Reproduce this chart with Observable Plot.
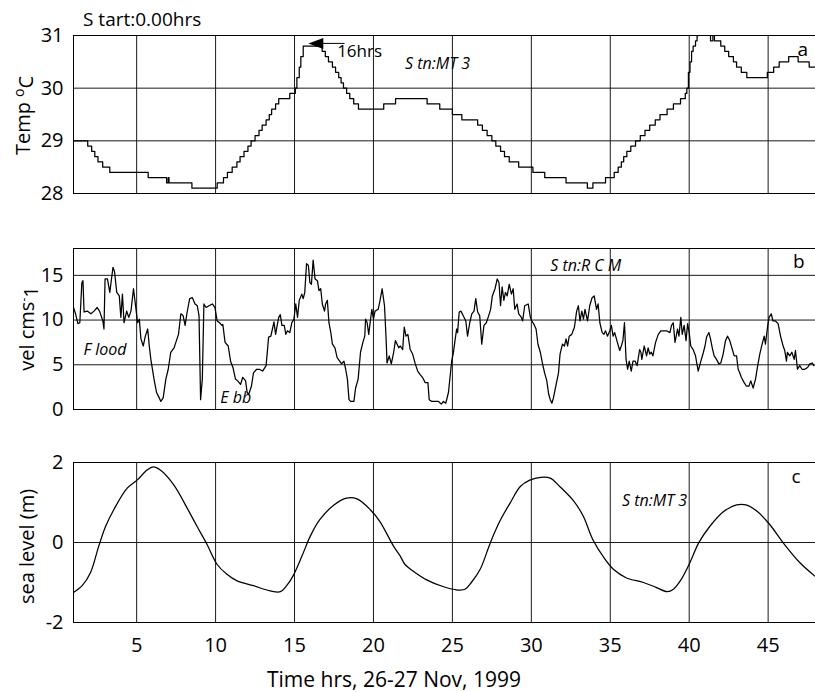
<!DOCTYPE html>
<html>
<head>
<meta charset="utf-8">
<script src="https://cdn.jsdelivr.net/npm/d3@7"></script>
<script src="https://cdn.jsdelivr.net/npm/@observablehq/plot@0.6"></script>
<style>
  body { margin: 0; background: #fff; }
  #chart { position: relative; width: 815px; height: 692px; font-family: "Open Sans", sans-serif; }
  #chart svg { display: block; }
</style>
</head>
<body>
<div id="chart"></div>
<script>
// ---------- DATA ----------
const xTicks = [5, 10, 15, 20, 25, 30, 35, 40, 45];
const tempTicks = [28, 29, 30, 31];
const tempGrid = [29, 30];
const velTicks = [0, 5, 10, 15];
const velGrid = [5, 10, 15];
const seaTicks = [-2, 0, 2];
const seaGrid = [0];

// temperature (deg C), hours; quantised 0.1 steps (value held until next hour)
const tempSeries = [
  [1.0,29.0],[1.9,28.9],[2.15,28.8],[2.35,28.7],[2.55,28.6],[2.85,28.5],[3.3,28.4],[5.73,28.3],
  [6.9,28.2],[7.0,28.3],[7.05,28.2],[8.5,28.1],[10.1,28.2],[10.5,28.3],[10.75,28.4],[11.05,28.5],
  [11.35,28.6],[11.55,28.7],[11.8,28.8],[12.05,28.9],[12.25,29.0],[12.5,29.1],[12.75,29.2],
  [12.95,29.3],[13.2,29.4],[13.4,29.5],[13.55,29.6],[13.8,29.7],[14.0,29.8],[14.7,29.9],
  [15.05,30.0],[15.15,30.2],[15.3,30.4],[15.4,30.6],[15.55,30.8],[16.75,30.7],[16.95,30.6],
  [17.15,30.5],[17.4,30.4],[17.6,30.3],[17.8,30.2],[17.95,30.1],[18.1,30.0],[18.3,29.9],
  [18.5,29.8],[18.75,29.7],[19.05,29.6],[20.65,29.7],[21.4,29.8],[23.4,29.7],[24.2,29.6],
  [25.0,29.5],[25.6,29.4],[26.6,29.3],[26.9,29.2],[27.2,29.1],[27.5,29.0],[27.75,28.9],
  [28.05,28.8],[28.3,28.7],[28.6,28.6],[29.2,28.5],[30.1,28.4],[30.85,28.3],[32.2,28.2],
  [33.55,28.1],[33.9,28.2],[34.7,28.3],[35.25,28.4],[35.5,28.5],[35.7,28.6],[35.85,28.7],
  [36.05,28.8],[36.3,28.9],[36.6,29.0],[36.9,29.1],[37.2,29.2],[37.5,29.3],[37.85,29.4],
  [38.15,29.5],[38.6,29.6],[39.0,29.7],[39.45,29.8],[39.75,29.9],[39.85,30.0],[39.95,30.3],
  [40.05,30.5],[40.15,30.7],[40.25,30.8],[40.4,30.9],[40.5,31.0],[40.6,31.1],[41.35,30.9],
  [41.5,31.0],[41.6,30.9],[42.0,30.8],[42.25,30.7],[42.5,30.6],[42.8,30.5],[43.0,30.4],
  [43.3,30.3],[43.65,30.2],[44.95,30.3],[45.35,30.4],[45.7,30.5],[46.3,30.6],[46.9,30.5],
  [47.6,30.4],[48.0,30.4]
];

// current speed (cm/s), hours
const velSeries = [
  [1.0,11.4],[1.13,10.7],[1.28,9.6],[1.4,9.7],[1.53,14.2],[1.6,14.4],[1.67,10.9],[1.87,11.0],
  [2.1,10.7],[2.3,11.0],[2.5,11.4],[2.65,11.0],[2.86,9.9],[2.93,9.0],[3.0,14.6],[3.15,14.6],
  [3.3,13.1],[3.5,15.9],[3.6,15.4],[3.74,13.1],[3.9,12.7],[4.0,10.3],[4.1,12.9],[4.2,9.7],
  [4.37,11.0],[4.5,10.3],[4.64,11.0],[4.8,13.5],[4.96,11.2],[5.06,9.7],[5.17,10.1],[5.27,7.9],
  [5.42,7.1],[5.55,8.2],[5.7,9.0],[5.8,7.1],[5.9,5.6],[6.1,3.4],[6.26,1.9],[6.43,1.3],
  [6.53,0.9],[6.68,1.3],[6.85,3.4],[7.0,4.5],[7.16,6.4],[7.37,6.9],[7.52,7.7],[7.65,8.4],
  [7.8,10.7],[7.94,10.5],[8.07,9.4],[8.2,10.9],[8.36,12.4],[8.53,12.5],[8.7,11.8],[8.84,11.6],
  [8.95,10.5],[9.05,1.1],[9.16,3.4],[9.26,11.8],[9.4,11.4],[9.58,11.6],[9.8,11.8],[9.96,11.4],
  [10.1,9.9],[10.25,9.7],[10.4,9.4],[10.46,9.5],[10.6,7.5],[10.8,7.1],[10.95,5.4],[11.1,4.7],
  [11.26,3.4],[11.4,3.2],[11.58,2.8],[11.72,3.6],[11.9,3.2],[12.0,1.9],[12.1,1.7],[12.27,2.6],
  [12.4,4.1],[12.6,4.5],[12.77,4.5],[12.98,4.3],[13.2,4.9],[13.36,8.1],[13.5,8.2],[13.6,9.0],
  [13.7,9.8],[13.8,8.4],[13.9,9.4],[14.0,10.3],[14.1,10.6],[14.2,9.4],[14.35,9.4],[14.45,8.4],
  [14.55,8.8],[14.7,8.6],[14.83,9.7],[14.96,10.1],[15.08,11.8],[15.19,10.3],[15.3,12.2],
  [15.46,12.9],[15.55,12.4],[15.65,13.1],[15.76,16.3],[15.88,16.1],[15.97,14.2],[16.07,14.0],
  [16.18,16.7],[16.3,14.6],[16.45,14.4],[16.55,13.3],[16.66,13.5],[16.76,11.8],[16.9,11.0],
  [16.97,11.8],[17.08,12.2],[17.18,9.7],[17.3,8.6],[17.4,7.3],[17.56,6.9],[17.7,5.8],
  [17.86,5.4],[17.98,5.1],[18.13,5.4],[18.24,4.5],[18.35,3.4],[18.45,1.1],[18.55,0.9],
  [18.76,0.9],[18.87,2.4],[19.03,3.4],[19.18,6.4],[19.33,7.5],[19.45,8.2],[19.5,10.1],
  [19.6,9.7],[19.7,8.4],[19.8,9.9],[19.9,11.2],[20.0,10.1],[20.1,11.0],[20.3,11.2],[20.44,12.4],
  [20.55,13.5],[20.7,11.6],[20.8,7.9],[20.86,5.2],[21.0,6.0],[21.13,5.1],[21.28,6.4],[21.39,7.7],
  [21.5,7.3],[21.6,6.9],[21.7,7.1],[21.85,6.7],[21.95,9.2],[22.06,8.2],[22.18,8.4],[22.33,6.7],
  [22.48,6.2],[22.65,5.1],[22.8,4.3],[22.96,3.9],[23.1,3.6],[23.28,3.0],[23.45,3.0],[23.53,1.1],
  [23.7,0.9],[23.9,0.9],[24.12,0.9],[24.3,0.6],[24.43,0.9],[24.58,0.7],[24.75,1.9],[24.85,3.6],
  [24.96,5.5],[25.05,6.2],[25.18,7.9],[25.27,9.0],[25.33,8.6],[25.43,10.9],[25.54,11.0],
  [25.68,10.5],[25.85,9.9],[25.96,8.2],[26.1,9.7],[26.23,10.7],[26.37,11.0],[26.48,12.4],
  [26.6,10.9],[26.73,10.5],[26.86,7.3],[27.0,9.4],[27.15,9.7],[27.3,10.5],[27.42,11.2],
  [27.53,12.7],[27.7,13.5],[27.84,14.6],[27.95,14.2],[28.05,11.6],[28.15,13.7],[28.26,12.2],
  [28.36,13.1],[28.47,12.7],[28.6,14.0],[28.74,12.9],[28.85,13.5],[28.95,11.2],[29.1,11.8],
  [29.2,10.7],[29.37,10.3],[29.45,9.9],[29.58,11.6],[29.8,11.8],[29.94,10.3],[30.04,9.9],
  [30.2,9.4],[30.3,9.0],[30.42,7.3],[30.57,6.4],[30.7,5.2],[30.84,4.1],[30.98,3.2],[31.1,1.7],
  [31.2,1.1],[31.3,0.7],[31.4,1.3],[31.55,2.6],[31.72,4.1],[31.82,6.2],[31.97,7.3],[32.1,7.1],
  [32.2,7.9],[32.3,7.1],[32.4,8.2],[32.56,8.4],[32.73,9.2],[32.87,11.0],[32.98,11.6],[33.08,9.9],
  [33.2,11.0],[33.3,10.1],[33.4,11.2],[33.56,9.9],[33.7,11.6],[33.85,12.5],[33.98,12.7],
  [34.13,11.2],[34.23,11.8],[34.34,9.7],[34.49,8.6],[34.6,8.4],[34.7,8.8],[34.82,8.2],
  [34.97,8.8],[35.07,9.4],[35.18,8.2],[35.28,8.6],[35.45,7.5],[35.6,6.6],[35.7,7.1],[35.8,7.7],
  [35.9,9.7],[36.0,5.6],[36.1,4.5],[36.2,5.4],[36.33,4.3],[36.44,5.4],[36.58,5.4],[36.7,4.9],
  [36.86,6.7],[36.94,6.4],[37.0,5.6],[37.15,7.1],[37.3,6.0],[37.4,6.9],[37.5,6.2],[37.6,6.4],
  [37.7,6.0],[37.87,7.5],[38.04,8.4],[38.2,8.8],[38.35,8.8],[38.56,8.8],[38.78,8.6],[38.88,9.4],
  [38.99,9.7],[39.1,7.5],[39.26,9.0],[39.35,8.2],[39.47,10.3],[39.56,8.4],[39.68,9.4],[39.8,7.7],
  [39.9,9.6],[40.0,8.6],[40.1,7.1],[40.25,6.7],[40.4,6.0],[40.57,4.3],[40.74,5.4],[40.9,6.4],
  [41.0,7.1],[41.1,8.1],[41.25,8.6],[41.35,7.9],[41.46,6.9],[41.58,6.0],[41.73,5.6],[41.88,5.1],
  [42.0,5.2],[42.15,6.2],[42.3,7.7],[42.43,8.2],[42.57,7.7],[42.7,6.9],[42.85,6.0],[43.0,6.0],
  [43.1,4.5],[43.2,4.1],[43.3,3.6],[43.48,3.0],[43.63,2.6],[43.78,2.6],[43.9,3.2],[44.05,2.4],
  [44.2,3.4],[44.32,4.7],[44.47,6.2],[44.62,7.3],[44.75,8.2],[44.83,7.3],[44.96,9.2],[45.06,10.3],
  [45.2,10.7],[45.3,9.9],[45.46,9.9],[45.63,9.6],[45.8,8.1],[45.95,7.1],[46.05,6.6],[46.16,5.4],
  [46.22,6.4],[46.37,6.0],[46.5,6.4],[46.65,5.6],[46.73,6.6],[46.86,4.5],[47.0,4.9],[47.15,4.5],
  [47.32,4.5],[47.5,4.7],[47.64,5.1],[47.8,5.2],[47.9,4.9]
];

// sea level (m), hours
const seaSeries = [
  [1.0,-1.25],[1.55,-1.08],[2.08,-0.75],[2.6,-0.09],[3.03,0.4],[3.55,0.82],[4.4,1.36],[5.03,1.56],
  [5.66,1.81],[6.04,1.89],[6.5,1.81],[7.35,1.44],[8.2,0.86],[8.83,0.4],[9.46,-0.05],[10.1,-0.55],
  [10.7,-0.79],[11.36,-0.96],[12.4,-1.08],[13.47,-1.21],[14.1,-1.23],[14.5,-1.08],[14.9,-0.84],
  [15.47,-0.34],[16.0,0.16],[16.6,0.57],[17.5,0.94],[18.3,1.11],[18.96,1.09],[19.8,0.82],
  [20.4,0.53],[21.27,-0.09],[21.7,-0.34],[22.0,-0.55],[22.5,-0.71],[23.4,-0.94],[24.4,-1.1],
  [25.2,-1.18],[25.8,-1.17],[26.2,-1.0],[26.76,-0.67],[27.4,-0.01],[28.0,0.53],[28.66,0.99],
  [29.3,1.4],[29.9,1.56],[30.6,1.63],[31.2,1.61],[31.8,1.4],[32.7,1.03],[33.3,0.65],[33.9,0.07],
  [34.6,-0.38],[35.2,-0.67],[36.0,-0.88],[37.1,-1.0],[37.9,-1.12],[38.6,-1.23],[39.0,-1.17],
  [39.5,-0.92],[40.05,-0.5],[40.6,-0.01],[41.3,0.4],[42.2,0.78],[43.0,0.94],[43.6,0.94],
  [44.3,0.78],[45.1,0.45],[45.96,-0.01],[47.0,-0.5],[47.96,-0.84]
];

// annotations (text and anchor point in data units)
const annotA = [
  {x: 47.2, y: 30.73, text: "a", italic: false, anchor: "middle"},
  {x: 22.0, y: 30.47, text: "S tn:MT 3", italic: true, anchor: "start"},
  {x: 17.7, y: 30.70, text: "16hrs", italic: false, anchor: "start"}
];
const arrowTip = [{x: 16.35, y: 30.85}];
const arrowShaft = [{x1: 16.8, x2: 18.2, y: 30.85}];
const annotB = [
  {x: 46.95, y: 16.5, text: "b", italic: false, anchor: "middle"},
  {x: 31.2, y: 16.1, text: "S tn:R C M", italic: true, anchor: "start"},
  {x: 1.63, y: 6.7, text: "F lood", italic: true, anchor: "start"},
  {x: 10.3, y: 1.3, text: "E bb", italic: true, anchor: "start"}
];
const annotC = [
  {x: 46.76, y: 1.65, text: "c", italic: false, anchor: "middle"},
  {x: 35.75, y: 1.05, text: "S tn:MT 3", italic: true, anchor: "start"}
];

// ---------- DRAWING ----------
const toRows = s => s.map(([t, v]) => ({t, v}));
const FONT = '"Open Sans", sans-serif';
const GRID = "#1a1a1a";

const leftTriangle = {
  draw(ctx) {
    ctx.moveTo(-7.5, 0);
    ctx.lineTo(7.5, -5.5);
    ctx.lineTo(7.5, 5.5);
    ctx.closePath();
  }
};

function textMarks(annot) {
  return [
    Plot.text(annot.filter(d => d.italic), {x: "x", y: "y", text: "text", textAnchor: "start",
      lineAnchor: "middle", fontStyle: "italic", fontSize: 16, fill: "black"}),
    Plot.text(annot.filter(d => !d.italic && d.anchor === "middle"), {x: "x", y: "y", text: "text",
      textAnchor: "middle", lineAnchor: "middle", fontSize: 19, fill: "black"}),
    Plot.text(annot.filter(d => !d.italic && d.anchor === "start"), {x: "x", y: "y", text: "text",
      textAnchor: "start", lineAnchor: "middle", fontSize: 17, fill: "black"})
  ];
}

function panel({rows, curve, yDomain, yTicks, yGrid, height, marginTop, marginBottom, showX, extra}) {
  return Plot.plot({
    width: 815,
    height,
    marginLeft: 73,
    marginRight: 0,
    marginTop,
    marginBottom,
    style: {fontFamily: FONT, fontSize: "20px", color: "black", background: "white", overflow: "visible"},
    x: showX
      ? {domain: [1, 48], ticks: xTicks, tickSize: 0, tickPadding: 15, label: null, tickFormat: d => String(d)}
      : {domain: [1, 48], axis: null},
    y: {domain: yDomain, ticks: yTicks, tickSize: 0, tickPadding: 10, label: null, tickFormat: d => String(d)},
    marks: [
      Plot.ruleX(xTicks, {stroke: GRID, strokeWidth: 1}),
      Plot.ruleY(yGrid, {stroke: GRID, strokeWidth: 1}),
      Plot.line(rows, {x: "t", y: "v", stroke: "black", strokeWidth: 1.25, curve, clip: true}),
      Plot.frame({stroke: "black", strokeWidth: 1}),
      ...extra
    ]
  });
}

const chart = document.getElementById("chart");

const svgA = panel({
  rows: toRows(tempSeries), curve: "step-after", yDomain: [28, 31], yTicks: tempTicks, yGrid: tempGrid,
  height: 210, marginTop: 35, marginBottom: 17, showX: false,
  extra: [
    ...textMarks(annotA),
    Plot.ruleY(arrowShaft, {x1: "x1", x2: "x2", y: "y", stroke: "black", strokeWidth: 1}),
    Plot.dot(arrowTip, {x: "x", y: "y", symbol: leftTriangle, fill: "black", stroke: null, r: 5})
  ]
});
const svgB = panel({
  rows: toRows(velSeries), curve: "linear", yDomain: [0, 18], yTicks: velTicks, yGrid: velGrid,
  height: 230, marginTop: 38, marginBottom: 31, showX: false,
  extra: textMarks(annotB)
});
const svgC = panel({
  rows: toRows(seaSeries), curve: "catmull-rom", yDomain: [-2, 2], yTicks: seaTicks, yGrid: seaGrid,
  height: 252, marginTop: 22, marginBottom: 70, showX: true,
  extra: textMarks(annotC)
});

chart.append(svgA, svgB, svgC);

// titles and axis labels (real text, with superscripts)
function addText(svg, attrs) {
  const t = d3.select(svg).append("text")
    .attr("font-family", FONT).attr("fill", "black").attr("text-anchor", "start");
  for (const [k, v] of Object.entries(attrs)) t.attr(k, v);
  return t;
}

addText(svgA, {x: 83, y: 26, "font-size": 19}).text("S tart:0.00hrs");

const ta = addText(svgA, {transform: "translate(30,115.5) rotate(-90)", "text-anchor": "middle", "font-size": 20});
ta.append("tspan").text("Temp ");
ta.append("tspan").attr("dy", "-0.45em").attr("font-size", 14).text("o");
ta.append("tspan").attr("dy", "0.45em").text("C");

const tb = addText(svgB, {transform: "translate(34,118.5) rotate(-90)", "text-anchor": "middle", "font-size": 20});
tb.append("tspan").text("vel cms");
tb.append("tspan").attr("dy", "-0.5em").attr("font-size", 12).text("-");
tb.append("tspan").attr("dy", "0.5em").text("1");

addText(svgC, {transform: "translate(34,106.5) rotate(-90)", "text-anchor": "middle", "font-size": 20})
  .text("sea level (m)");

addText(svgC, {x: 394, y: 247, "text-anchor": "middle", "font-size": 21})
  .text("Time hrs, 26-27 Nov, 1999");
</script>
</body>
</html>
